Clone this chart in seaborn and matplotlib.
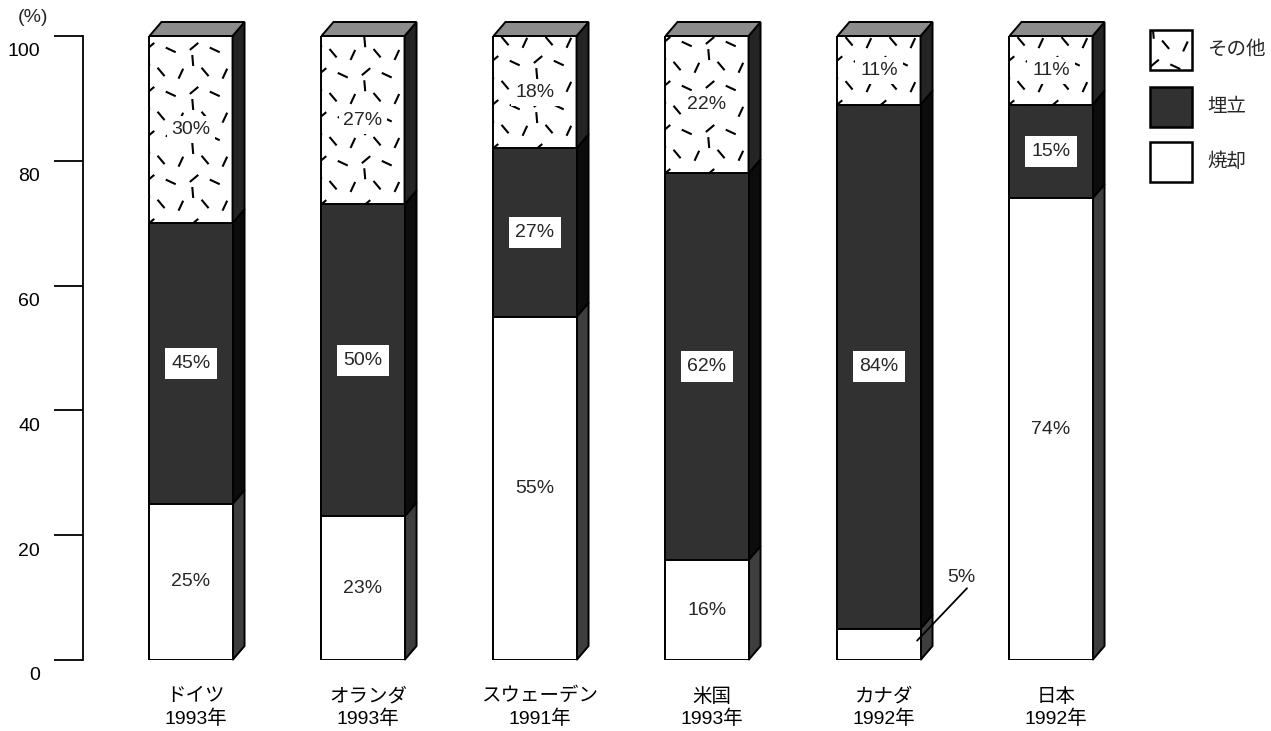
import numpy as np
import pandas as pd
import matplotlib
matplotlib.use("Agg")
import matplotlib.pyplot as plt
import seaborn as sns
from matplotlib.patches import Polygon, Rectangle
from matplotlib.collections import LineCollection
from matplotlib.transforms import IdentityTransform, ScaledTranslation

# ---- data -------------------------------------------------------------
countries = ["ドイツ", "オランダ", "スウェーデン", "米国", "カナダ", "日本"]
years = ["1993年", "1993年", "1991年", "1993年", "1992年", "1992年"]
incineration = [25, 23, 55, 16, 5, 74]   # 焼却
landfill = [45, 50, 27, 62, 84, 15]      # 埋立
other = [30, 27, 18, 22, 11, 11]         # その他
yticks = [0, 20, 40, 60, 80, 100]
legend_labels = ["その他", "埋立", "焼却"]

# ---- style ------------------------------------------------------------
sns.set_style("white")
plt.rcParams["font.family"] = ["Liberation Sans", "Noto Sans CJK JP"]
FS = 14

INC_FRONT, INC_SIDE = "white", "#3e3e3e"
LAND_FRONT, LAND_SIDE = "#313131", "#0c0c0c"
OTH_FRONT, OTH_SIDE = "white", "#242424"
TOP = "#8c8c8c"
EDGE = "black"
LW = 1.4
BAR_W = 0.483
DEPTH_PX = (12, 14)

W, H = 1271, 731
fig = plt.figure(figsize=(W / 100, H / 100), dpi=100)
ax_left, ax_right, ax_bot, ax_top = 83, 1125, 660, 36
ax = fig.add_axes([ax_left / W, (H - ax_bot) / H,
                   (ax_right - ax_left) / W, (ax_bot - ax_top) / H])

labels = [f"{c}\n{y}" for c, y in zip(countries, years)]
inc = np.array(incineration, float)
land = np.array(landfill, float)
oth = np.array(other, float)
df = pd.DataFrame({"label": labels,
                   "total": inc + land + oth,
                   "inc_land": inc + land,
                   "inc": inc})

# stacked bars drawn as overlapping cumulative heights
sns.barplot(data=df, x="label", y="total", color=OTH_FRONT, width=BAR_W,
            edgecolor=EDGE, linewidth=LW, errorbar=None, saturation=1,
            zorder=2, ax=ax)
sns.barplot(data=df, x="label", y="inc_land", color=LAND_FRONT, width=BAR_W,
            edgecolor=EDGE, linewidth=LW, errorbar=None, saturation=1,
            zorder=4, ax=ax)
sns.barplot(data=df, x="label", y="inc", color=INC_FRONT, width=BAR_W,
            edgecolor=EDGE, linewidth=LW, errorbar=None, saturation=1,
            zorder=5, ax=ax)

n = len(countries)
xmin = -(191 - ax_left) / 172
ax.set_xlim(xmin, xmin + (ax_right - ax_left) / 172)
ax.set_ylim(0, 100)

# pixel scale of the data axes
p0 = ax.transData.transform((0, 0))
p1 = ax.transData.transform((1, 1))
pxx, pxy = p1 - p0
ddx, ddy = DEPTH_PX[0] / pxx, DEPTH_PX[1] / pxy

total_patches = ax.patches[:n]

# scattered-dash texture tile (44 px square)
TILE = [(0.15, 0.20, 40), (0.62, 0.12, -25), (0.85, 0.58, 65),
        (0.40, 0.62, -50), (0.12, 0.88, 95)]


def dashes(x0, y0, x1, y1, tile=44, length=11):
    segs = []
    for ty in np.arange(y0, y1, tile):
        for tx in np.arange(x0, x1, tile):
            for u, v, a in TILE:
                cx, cy = tx + u * tile, ty + v * tile
                if cx > x1 or cy > y1:
                    continue
                r = np.deg2rad(a)
                hx, hy = 0.5 * length * np.cos(r), 0.5 * length * np.sin(r)
                segs.append([(cx - hx, cy - hy), (cx + hx, cy + hy)])
    return segs


for i in range(n):
    patch = total_patches[i]
    xl = patch.get_x()
    xr = xl + patch.get_width()
    bounds = [(0, inc[i], INC_SIDE),
              (inc[i], inc[i] + land[i], LAND_SIDE),
              (inc[i] + land[i], inc[i] + land[i] + oth[i], OTH_SIDE)]
    # right-hand side faces
    for y0, y1, col in bounds:
        ax.add_patch(Polygon([(xr, y0), (xr + ddx, y0 + ddy),
                              (xr + ddx, y1 + ddy), (xr, y1)],
                             closed=True, facecolor=col, edgecolor=EDGE,
                             linewidth=LW, zorder=3, clip_on=False))
    top = bounds[-1][1]
    ax.add_patch(Polygon([(xl, top), (xl + ddx, top + ddy),
                          (xr + ddx, top + ddy), (xr, top)],
                         closed=True, facecolor=TOP, edgecolor=EDGE,
                         linewidth=LW, zorder=3, clip_on=False))
    # texture on the "その他" segment
    a = ax.transData.transform((xl, inc[i] + land[i]))
    b = ax.transData.transform((xr, top))
    lc = LineCollection(dashes(a[0] - 6, a[1] - 8, b[0], b[1]),
                        colors="black", linewidths=1.5,
                        transform=IdentityTransform(), zorder=3)
    ax.add_collection(lc)
    lc.set_clip_path(patch)

    xc = xl + patch.get_width() / 2
    # value labels
    ax.text(xc, inc[i] + land[i] + oth[i] / 2, f"{oth[i]:.0f}%",
            ha="center", va="center", fontsize=FS, zorder=6,
            bbox=dict(boxstyle="square,pad=0.25", fc="white", ec="none"))
    ax.text(xc, inc[i] + land[i] / 2, f"{land[i]:.0f}%",
            ha="center", va="center", fontsize=FS, zorder=6,
            bbox=dict(boxstyle="square,pad=0.35", fc="white", ec="none"))
    if inc[i] >= 10:
        ax.text(xc, inc[i] / 2, f"{inc[i]:.0f}%", ha="center", va="center",
                fontsize=FS, zorder=6)
    else:
        ax.plot([xr - 0.02, xr + 0.27], [inc[i] * 0.62, inc[i] + 6.5],
                color="black", lw=1.3, zorder=6, clip_on=False)
        ax.text(xr + 0.24, inc[i] + 8.2, f"{inc[i]:.0f}%", ha="center",
                va="center", fontsize=FS, zorder=6)

# axes decoration
sns.despine(ax=ax, top=True, right=True, bottom=True, left=False)
ax.spines["left"].set_linewidth(1.3)
ax.spines["left"].set_color("black")
ax.set_yticks(yticks)
ax.tick_params(axis="y", left=True, direction="out", length=21, width=1.3,
               pad=10, labelsize=FS, colors="black")
for lab in ax.get_yticklabels():
    lab.set_transform(lab.get_transform() +
                      ScaledTranslation(0, -0.14, fig.dpi_scale_trans))
ax.tick_params(axis="x", bottom=False, length=0, pad=20, labelsize=FS,
               colors="black")
for lab in ax.get_xticklabels():
    lab.set_linespacing(1.3)
    lab.set_transform(lab.get_transform() +
                      ScaledTranslation(0.05, 0, fig.dpi_scale_trans))
ax.set_xlabel("")
ax.set_ylabel("")
ax.grid(False)

# overlay in pixel units for the unit caption and legend
ov = fig.add_axes([0, 0, 1, 1], zorder=10)
ov.set_xlim(0, W)
ov.set_ylim(H, 0)
ov.axis("off")
ov.patch.set_alpha(0)
ov.text(33, 18, "(%)", ha="center", va="center", fontsize=FS)

legend_fills = [OTH_FRONT, LAND_FRONT, INC_FRONT]
legend_y = [30, 87, 142]
for lbl, fc, y in zip(legend_labels, legend_fills, legend_y):
    r = Rectangle((1150, y), 42, 40, facecolor=fc, edgecolor=EDGE,
                  linewidth=1.8)
    ov.add_patch(r)
    ov.text(1207, y + 20, lbl, ha="left", va="center", fontsize=FS)
r0 = ov.patches[0]
bb = ov.transData.transform([(1150, 70), (1192, 30)])
lc = LineCollection(dashes(bb[0][0] - 2, bb[0][1] - 2, bb[1][0], bb[1][1]),
                    colors="black", linewidths=1.5,
                    transform=IdentityTransform())
ov.add_collection(lc)
lc.set_clip_path(r0)

fig.savefig("out.png", dpi=100)
